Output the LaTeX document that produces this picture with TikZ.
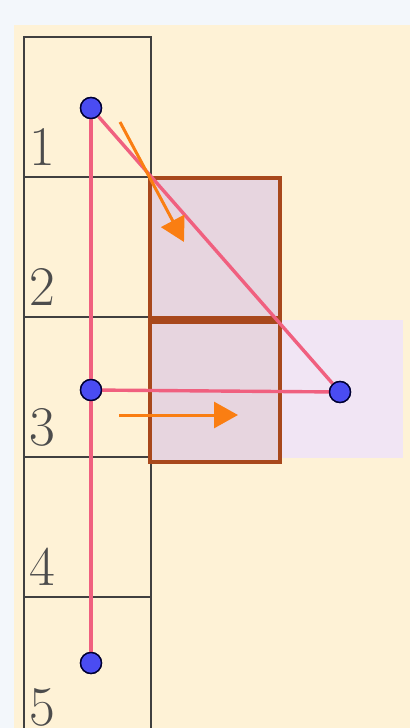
\documentclass[tikz,border=0pt]{standalone}
\usetikzlibrary{arrows.meta, positioning}

\definecolor{pagebg}{HTML}{F3F7FB}
\definecolor{cream}{HTML}{FEF2D6}
\definecolor{rust}{HTML}{A8481C}
\definecolor{mauve}{HTML}{E7D5DF}
\definecolor{lilac}{HTML}{F1E5F4}
\definecolor{pinkline}{HTML}{F0607F}
\definecolor{dotblue}{HTML}{4A4CF2}
\definecolor{arrorange}{HTML}{FA7E12}

\begin{document}
\begin{tikzpicture}[
    x=1pt, y=-1pt,
    cell/.style={draw=black!75, line width=1.8pt, minimum width=127pt,
                 minimum height=140pt, inner sep=0pt, outer sep=0pt},
    tile/.style={draw=rust, line width=3.8pt, fill=mauve,
                 minimum width=130pt, minimum height=140pt, inner sep=0pt},
    num/.style={anchor=base, font=\fontsize{56}{56}\selectfont,
                text=black!70, inner sep=0pt},
    dot/.style={draw=black!80!blue, line width=1.4pt, circle, fill=dotblue,
                minimum size=21pt, inner sep=0pt},
    link/.style={draw=pinkline, line width=3.4pt},
    move/.style={draw=arrorange, line width=3pt,
                 -{Triangle[length=24pt, width=26pt]}},
    node distance=0pt
  ]
  \useasboundingbox (0,0) rectangle (410,728);
  \fill[pagebg] (0,0) rectangle (410,728);
  \fill[cream] (14,25) rectangle (410,728);

  % column of numbered cells
  \node[cell] (c1) at (87.5,107) {};
  \node[cell, below=of c1] (c2) {};
  \node[cell, below=of c2] (c3) {};
  \node[cell, below=of c3] (c4) {};
  \node[cell, below=of c4] (c5) {};

  \node[num] (n1) at ([shift={(18,-12)}]c1.south west) {1};
  \node[num] (n2) at ([shift={(18,-12)}]c2.south west) {2};
  \node[num] (n3) at ([shift={(18,-12)}]c3.south west) {3};
  \node[num] (n4) at ([shift={(18,-12)}]c4.south west) {4};
  \node[num] (n5) at ([shift={(18,-12)}]c5.south west) {5};

  % shaded squares
  \fill[lilac] (280,320) rectangle (403,458);
  \node[tile] (t1) at (215,248) {};
  \node[tile, below=of t1] (t2) {};

  % points and links
  \node[dot] (p1) at (91,108) {};
  \node[dot] (p3) at (91,390) {};
  \node[dot] (p5) at (91,663) {};
  \node[dot] (q3) at (340,392) {};

  \coordinate (a1) at (120,122);
  \coordinate (b1) at (184,242);
  \coordinate (a2) at (119,415);
  \coordinate (b2) at (238,415);

  \draw[link] (p1) -- (p5);
  \draw[link] (p1) -- (q3);
  \draw[link] (p3) -- (q3);
  \draw[move] (a1) -- (b1);
  \draw[move] (a2) -- (b2);

  \node[dot] at (p1) {};
  \node[dot] at (p3) {};
  \node[dot] at (p5) {};
  \node[dot] at (q3) {};
\end{tikzpicture}
\end{document}
